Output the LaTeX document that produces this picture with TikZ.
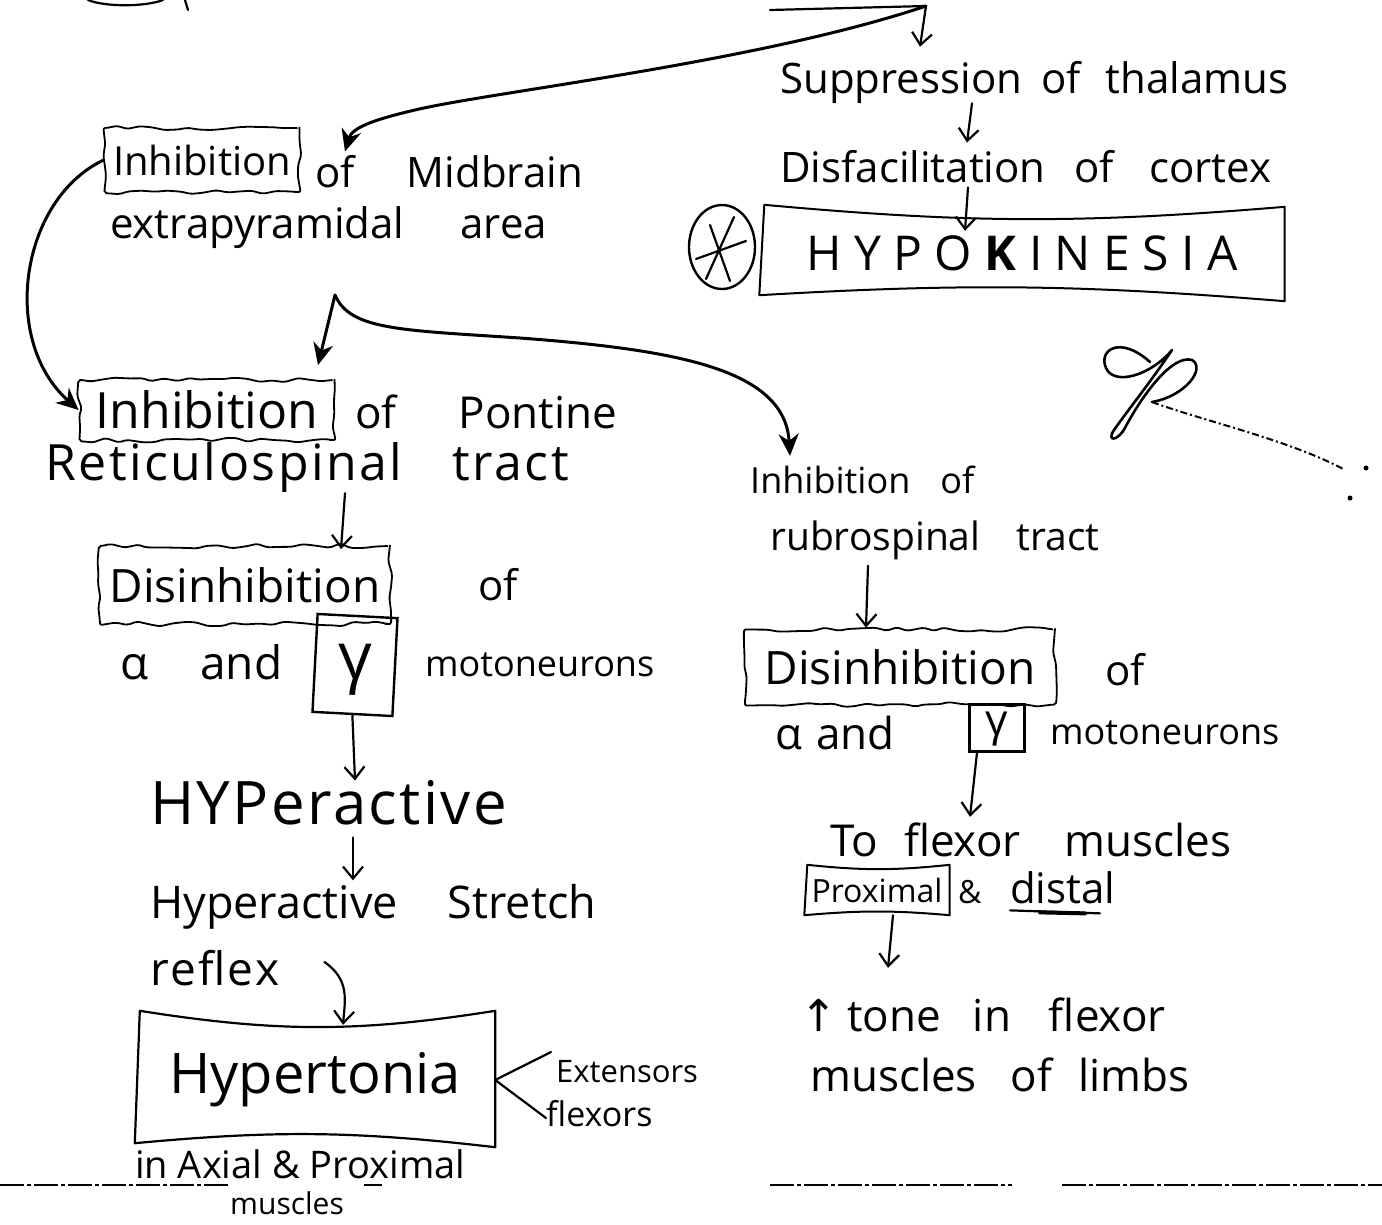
\documentclass[tikz,border=0pt]{standalone}
\usepackage{fontspec}
\setmainfont{Open Sans}
\newfontfamily\symf{DejaVu Sans}
\usetikzlibrary{arrows.meta,decorations.pathmorphing,calc,shapes.geometric}
\pgfmathsetseed{11}
\begin{document}
\begin{tikzpicture}[x=1pt,y=-1pt,
  hw/.style={font=\fontsize{42}{48}\selectfont, inner sep=0pt, anchor=west},
  fs/.style={font=\fontsize{#1}{#1}\selectfont},
  pen/.style={line width=2.2pt, line cap=round, line join=round},
  arr/.style={pen, -{Straight Barb[length=12pt,width=20pt,line width=2.2pt]}},
  barr/.style={line width=3pt, line cap=round, -{Stealth[length=22pt,width=20pt,inset=7pt]}},
  wavy/.style={draw, line width=1.8pt, decorate,
    decoration={random steps,segment length=12pt,amplitude=2.5pt},
    rounded corners=2pt, inner sep=0pt},
  plainbox/.style={draw, line width=2.4pt, inner sep=0pt},
  hollow/.style={inner sep=0pt},
  glyph/.style={inner sep=0pt, text height=0.5em, text depth=0.2em},
  dashrule/.style={line width=1.3pt, dash pattern=on 24pt off 3pt on 4pt off 3pt},
]
\fill[white] (0,0) rectangle (1382,1224);
\useasboundingbox (0,0) rectangle (1382,1224);

% ---------- fragments running off the top edge ----------
\draw[pen] (88,0) .. controls (105,7) and (145,7) .. (163,0);
\draw[pen] (185,0) -- (188,10);
\coordinate (apex) at (926,6);
\draw[pen] (770,10) -- (apex);

% ---------- upper right chain ----------
\node[hw] (supp) at (780,82) {Suppression\hspace{8pt} of\hspace{14pt} thalamus};
\node[hw] (disf) at (780,167) {Disfacilitation\hspace{18pt} of\hspace{24pt} cortex};
\node[hollow, minimum width=525pt, minimum height=88pt, fs=48] (hypo) at (1022,253)
  {H Y P O {\bfseries K} I N E S I A};
\draw[pen, line width=2pt] ($(hypo.north west)+(5,-4)$) to[bend right=5] ($(hypo.north east)+(0,-2)$)
  -- ($(hypo.south east)+(0,4)$) to[bend right=4] ($(hypo.south west)+(0,-2)$) -- cycle;
\node[draw, ellipse, line width=2.4pt, minimum width=66pt, minimum height=84pt] (star) at (722,247) {};
\draw[pen] ($(star.center)+(12,-30)$) -- ($(star.center)+(-16,32)$);
\draw[pen] ($(star.center)+(-12,-22)$) -- ($(star.center)+(8,34)$);
\draw[pen] ($(star.center)+(-26,12)$) -- ($(star.center)+(24,-6)$);

\draw[arr] (apex) -- ($(supp.north west)+(140,-14)$);
\draw[arr] ($(supp.south west)+(192,0)$) -- ($(disf.north west)+(187,-8)$);
\draw[arr] ($(disf.south west)+(188,4)$) -- ($(hypo.north)+(-57,22)$);

% ---------- signature ----------
\draw[pen, line width=2.6pt] (1150,362) .. controls (1120,335) and (1098,350) .. (1106,368)
  .. controls (1114,386) and (1150,376) .. (1172,350)
  .. controls (1152,380) and (1128,410) .. (1114,430)
  .. controls (1106,442) and (1118,442) .. (1126,426)
  .. controls (1142,396) and (1172,354) .. (1192,360)
  .. controls (1206,368) and (1186,396) .. (1152,402);
\draw[line width=2pt, dash pattern=on 7pt off 3pt on 2pt off 3pt] (1152,402) .. controls (1200,420) and (1290,440) .. (1345,470);
\fill (1366,468) circle (2.5pt);
\fill (1350,498) circle (2.5pt);

% ---------- left column ----------
\node[wavy, minimum width=195pt, minimum height=64pt, fs=40] (inh1) at (202,160) {Inhibition};
\node[hw] (mid) at (315,172) {of\hspace{52pt}Midbrain};
\node[hw] (extra) at (110,228) {extrapyramidal\hspace{56pt}area};

\draw[barr] (apex) .. controls (760,62) and (490,92) .. (415,110)
  .. controls (372,120) and (352,128) .. ($(mid.north west)+(30,-4)$);

\node[wavy, minimum width=255pt, minimum height=60pt, fs=50] (inh2) at (207,410) {Inhibition};
\node[hw, fs=44] (pont) at (355,412) {of\hspace{62pt}Pontine};
\node[hw, fs=50] (retic) at (45,468) {\addfontfeature{LetterSpace=5}Reticulospinal\hspace{50pt}tract};

\draw[barr] (inh1.west) .. controls (20,200) and (0,340) .. (inh2.west);

\coordinate (fork) at (335,295);
\draw[barr] (fork) -- ($(inh2.north)+(111,-14)$);

\node[wavy, minimum width=290pt, minimum height=78pt, fs=46] (dis1) at (245,585) {Disinhibition};
\node[hw] (of1) at (478,585) {of};
\draw[arr] ($(retic.south west)+(300,0)$) -- ($(dis1.north)+(96,4)$);

\node[hw, fs=46] (ab1) at (120,662) {α\hspace{52pt}and};
\node[plainbox, minimum width=80pt, minimum height=98pt, rotate=-3] (g1) at (355,665) {};
\node[glyph, fs=66] (g1t) at ($(g1.center)+(0,13)$) {γ};
\node[hw, fs=36] (mn1) at (425,665) {motoneurons};

\node[hw, fs=60] (hyp) at (150,803) {\addfontfeature{LetterSpace=4}HYPeractive};
\draw[arr] (g1.south) -- ($(hyp.north west)+(205,0)$);

\node[hw, fs=45] (hstr) at (150,907) {Hyperactive\hspace{50pt}Stretch};
\draw[arr] ($(hyp.south west)+(203,12)$) -- ($(hstr.north west)+(203,-4)$);

\node[hw, fs=46] (refl) at (150,968) {\addfontfeature{LetterSpace=5}reflex};

\node[hollow, minimum width=360pt, minimum height=130pt, fs=56] (hyt) at (315,1080) {Hypertonia};
\draw[pen, line width=2.2pt] ($(hyt.north west)+(5,-4)$) to[bend right=9] ($(hyt.north east)+(0,-4)$)
  -- ($(hyt.south east)+(0,2)$) to[bend right=6] ($(hyt.south west)+(0,-2)$) -- cycle;
\draw[arr] ($(refl.east)+(45,-6)$) .. controls (350,980) and (345,1000) .. ($(hyt.north)+(28,10)$);

\node[hw, fs=31] (ext) at (556,1072) {Extensors};
\node[hw, fs=34] (flx) at (546,1114) {flexors};
\draw[pen] ($(ext.west)+(-5,-20)$) -- (hyt.east) -- ($(flx.west)+(0,4)$);

\node[hw, fs=38] (axial) at (135,1164) {in Axial \& Proximal};
\node[hw, fs=30] (musc) at (230,1203) {muscles};

% ---------- right column ----------
\node[hw, fs=36] (rinh) at (750,480) {Inhibition\hspace{30pt}of};
\draw[barr] (fork) .. controls (350,330) and (400,330) .. (520,338)
  .. controls (680,350) and (785,370) .. ($(rinh.north west)+(40,-10)$);
\node[hw, fs=39] (rubro) at (770,540) {rubrospinal\hspace{36pt}tract};

\node[wavy, minimum width=310pt, minimum height=75pt, fs=46] (dis2) at (900,667) {Disinhibition};
\node[hw] (of2) at (1105,670) {of};
\draw[arr] ($(rubro.south west)+(98,6)$) -- ($(dis2.north)+(-34,-1)$);

\node[hw, fs=44] (ab2) at (775,733) {α\hspace{14pt}and};
\node[plainbox, minimum width=55pt, minimum height=47pt] (g2) at (997,728) {};
\node[glyph, fs=44] (g2t) at ($(g2.center)+(0,6)$) {γ};
\node[hw, fs=36] (mn2) at (1050,733) {motoneurons};

\node[hw, fs=44] (flexm) at (830,840) {To\hspace{26pt}flexor\hspace{44pt}muscles};
\draw[arr] ($(g2.south)+(-20,0)$) -- ($(flexm.north west)+(140,-6)$);

\node[hollow, minimum width=145pt, minimum height=50pt, fs=32] (prox) at (877,890) {Proximal};
\draw[pen, line width=2pt] ($(prox.north west)+(3,0)$) to[bend right=6] (prox.north east)
  -- (prox.south east) to[bend right=5] (prox.south west) -- cycle;
\node[hw, fs=32] (amp) at (958,892) {\&};
\node[hw, fs=42] (distal) at (1010,888) {distal};
\draw[pen] ($(distal.south west)+(0,6)$) -- ($(distal.south west)+(90,9)$);
\draw[line width=4pt, line cap=round] ($(distal.south west)+(30,8)$) -- ($(distal.south west)+(75,9)$);

\node[hw, fs=44] (tone) at (800,1015) {{\symf ↑}\hspace{10pt}tone\hspace{32pt}in\hspace{38pt}flexor};
\draw[arr] ($(prox.south)+(16,0)$) -- ($(tone.north west)+(88,-30)$);
\node[hw, fs=44] (limbs) at (810,1075) {muscles\hspace{34pt}of\hspace{26pt}limbs};

% ---------- torn rule near the bottom ----------
\draw[dashrule] (0,1185) -- (228,1185);
\draw[dashrule] (364,1185) -- (382,1185);
\draw[dashrule] (770,1185) -- (1012,1185);
\draw[dashrule] (1062,1185) -- (1382,1185);
\end{tikzpicture}
\end{document}
